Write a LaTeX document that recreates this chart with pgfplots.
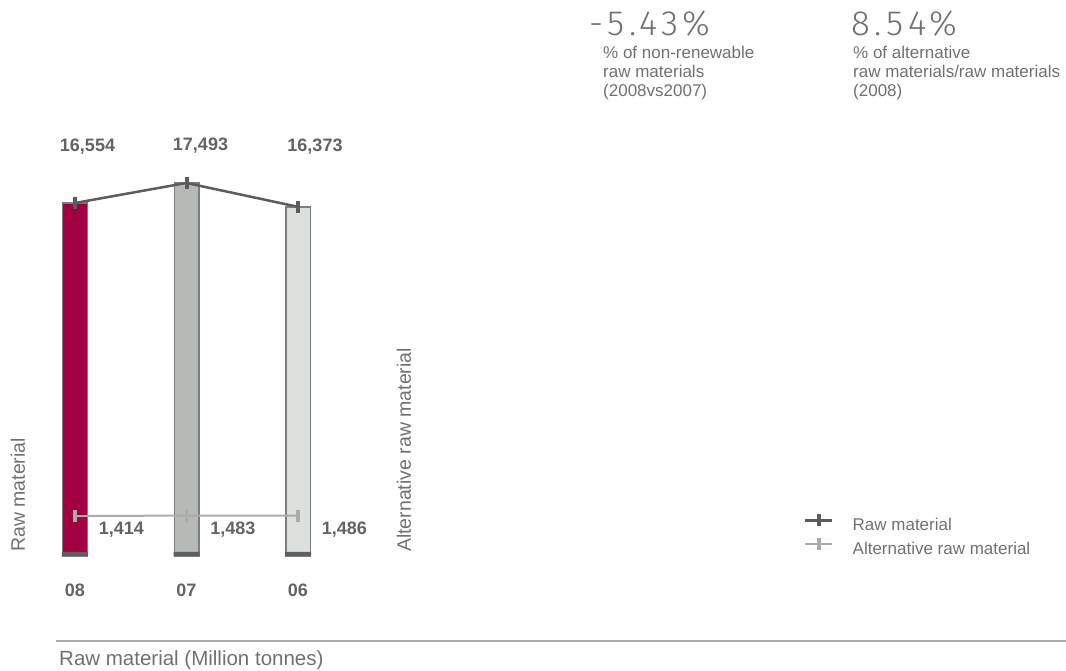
\documentclass[border=0pt]{standalone}
\usepackage{pgfplots}
\pgfplotsset{compat=1.18}
\usepackage{fontspec}
\setmainfont{Liberation Sans}
\IfFontExistsTF{Fira Sans Light}{\newfontfamily\lightfont{Fira Sans Light}}{%
  \IfFontExistsTF{Lato Light}{\newfontfamily\lightfont{Lato Light}}{\newfontfamily\lightfont{Liberation Sans}}}
\definecolor{crimson}{RGB}{160,0,64}
\definecolor{midbar}{RGB}{181,186,183}
\definecolor{lightbar}{RGB}{220,225,221}
\definecolor{outline}{RGB}{125,125,125}
\definecolor{darkstrip}{RGB}{94,94,94}
\definecolor{rawline}{RGB}{92,92,92}
\definecolor{altline}{RGB}{171,171,171}
\definecolor{numgray}{RGB}{99,99,99}
\definecolor{labgray}{RGB}{112,112,112}
\definecolor{rulegray}{RGB}{170,170,170}
\begin{document}
\begin{tikzpicture}
\path[use as bounding box] (0pt,0pt) rectangle (1066pt,670pt);
% main axis
\begin{axis}[
  at={(19.25pt,114pt)}, anchor=south west,
  scale only axis, width=334.5pt, height=426.5pt,
  xmin=-0.5, xmax=2.5, ymin=0, ymax=20000,
  axis line style={draw=none}, tick style={draw=none},
  ytick=\empty, xtick={0,1,2}, xticklabels={08,07,06},
  xticklabel style={font=\fontsize{18}{20}\selectfont\bfseries, text=numgray, anchor=base, yshift=-41pt},
  bar width=24.5pt, clip=false,
  legend cell align=left,
  legend image code/.code={\draw[mark repeat=2,mark phase=2,#1] plot coordinates {(0pt,6pt)(13.5pt,6pt)(27pt,6pt)};},
  legend style={at={(2.346,0.098)}, anchor=north west, draw=none, fill=none,
    inner sep=0pt, row sep=3pt, column sep=19pt,
    font=\fontsize{17}{20}\selectfont, text=labgray,
    nodes={inner sep=0pt, text height=13pt, text depth=4pt}},
]
\addplot[ybar, bar shift=0pt, fill=crimson, draw=outline, line width=1.5pt, forget plot] coordinates {(0,16554)};
\addplot[ybar, bar shift=0pt, fill=midbar, draw=outline, line width=1.5pt, forget plot] coordinates {(1,17493)};
\addplot[ybar, bar shift=0pt, fill=lightbar, draw=outline, line width=1.5pt, forget plot] coordinates {(2,16373)};
\addplot[ybar, bar shift=0pt, bar width=26pt, fill=darkstrip, draw=none, forget plot] coordinates {(0,190)(1,190)(2,190)};
\addplot[rawline, line width=2.5pt, mark=|, mark size=6pt, mark options={line width=4pt}] coordinates {(0,16554)(1,17493)(2,16373)};
\addlegendentry{Raw material}
\addlegendimage{altline, line width=2.5pt, mark=|, mark size=6pt, mark options={line width=3.5pt}}
\addlegendentry{Alternative raw material}
\end{axis}
% secondary axis for alternative raw material
\begin{axis}[
  at={(19.25pt,114pt)}, anchor=south west,
  scale only axis, width=334.5pt, height=426.5pt,
  xmin=-0.5, xmax=2.5, ymin=-4300, ymax=56700,
  hide axis, clip=false,
]
\addplot[altline, line width=2pt, mark=|, mark size=6pt, mark options={line width=3.5pt},
  nodes near coords, point meta=explicit symbolic,
  nodes near coords style={anchor=west, inner sep=0pt, xshift=22pt, yshift=-14pt,
    font=\fontsize{18}{20}\selectfont\bfseries, text=numgray}]
  table[meta=lab] {
x y lab
0 1414 {1,414}
1 1483 {1,483}
2 1486 {1,486}
};
\end{axis}
% value labels above bars
\begin{scope}[every node/.style={font=\fontsize{18}{20}\selectfont\bfseries, text=numgray, inner sep=0pt, anchor=base}]
\node at (87.5pt,518.5pt) {16,554};
\node at (200.5pt,519.5pt) {17,493};
\node at (315pt,518.5pt) {16,373};
\end{scope}
% axis titles
\node[rotate=90, anchor=west, inner sep=0pt, font=\fontsize{19.5}{22}\selectfont, text=labgray] at (18pt,118pt) {Raw material};
\node[rotate=90, anchor=west, inner sep=0pt, font=\fontsize{19.5}{22}\selectfont, text=labgray] at (404pt,118pt) {Alternative raw material};
\draw[rulegray, line width=1.5pt] (56pt,29pt) -- (1066pt,29pt);
\node[anchor=west, inner sep=0pt, font=\fontsize{20.5}{22}\selectfont, text=labgray] at (59pt,10pt) {Raw material (Million tonnes)};
% headline figures
\begin{scope}[every node/.style={inner sep=0pt, anchor=base west, text=labgray}]
\node[font=\lightfont\fontsize{35}{36}\selectfont\addfontfeatures{LetterSpace=13}] at (589pt,634pt) {-5.43\%};
\node[font=\fontsize{17}{19}\selectfont] at (603pt,611pt) {\% of non-renewable};
\node[font=\fontsize{17}{19}\selectfont] at (603pt,592pt) {raw materials};
\node[font=\fontsize{17}{19}\selectfont] at (603pt,573pt) {(2008vs2007)};
\node[font=\lightfont\fontsize{35}{36}\selectfont\addfontfeatures{LetterSpace=13}] at (851pt,634pt) {8.54\%};
\node[font=\fontsize{17}{19}\selectfont] at (853pt,611pt) {\% of alternative};
\node[font=\fontsize{17}{19}\selectfont] at (853pt,592pt) {raw materials/raw materials};
\node[font=\fontsize{17}{19}\selectfont] at (853pt,573pt) {(2008)};
\end{scope}
\end{tikzpicture}
\end{document}
